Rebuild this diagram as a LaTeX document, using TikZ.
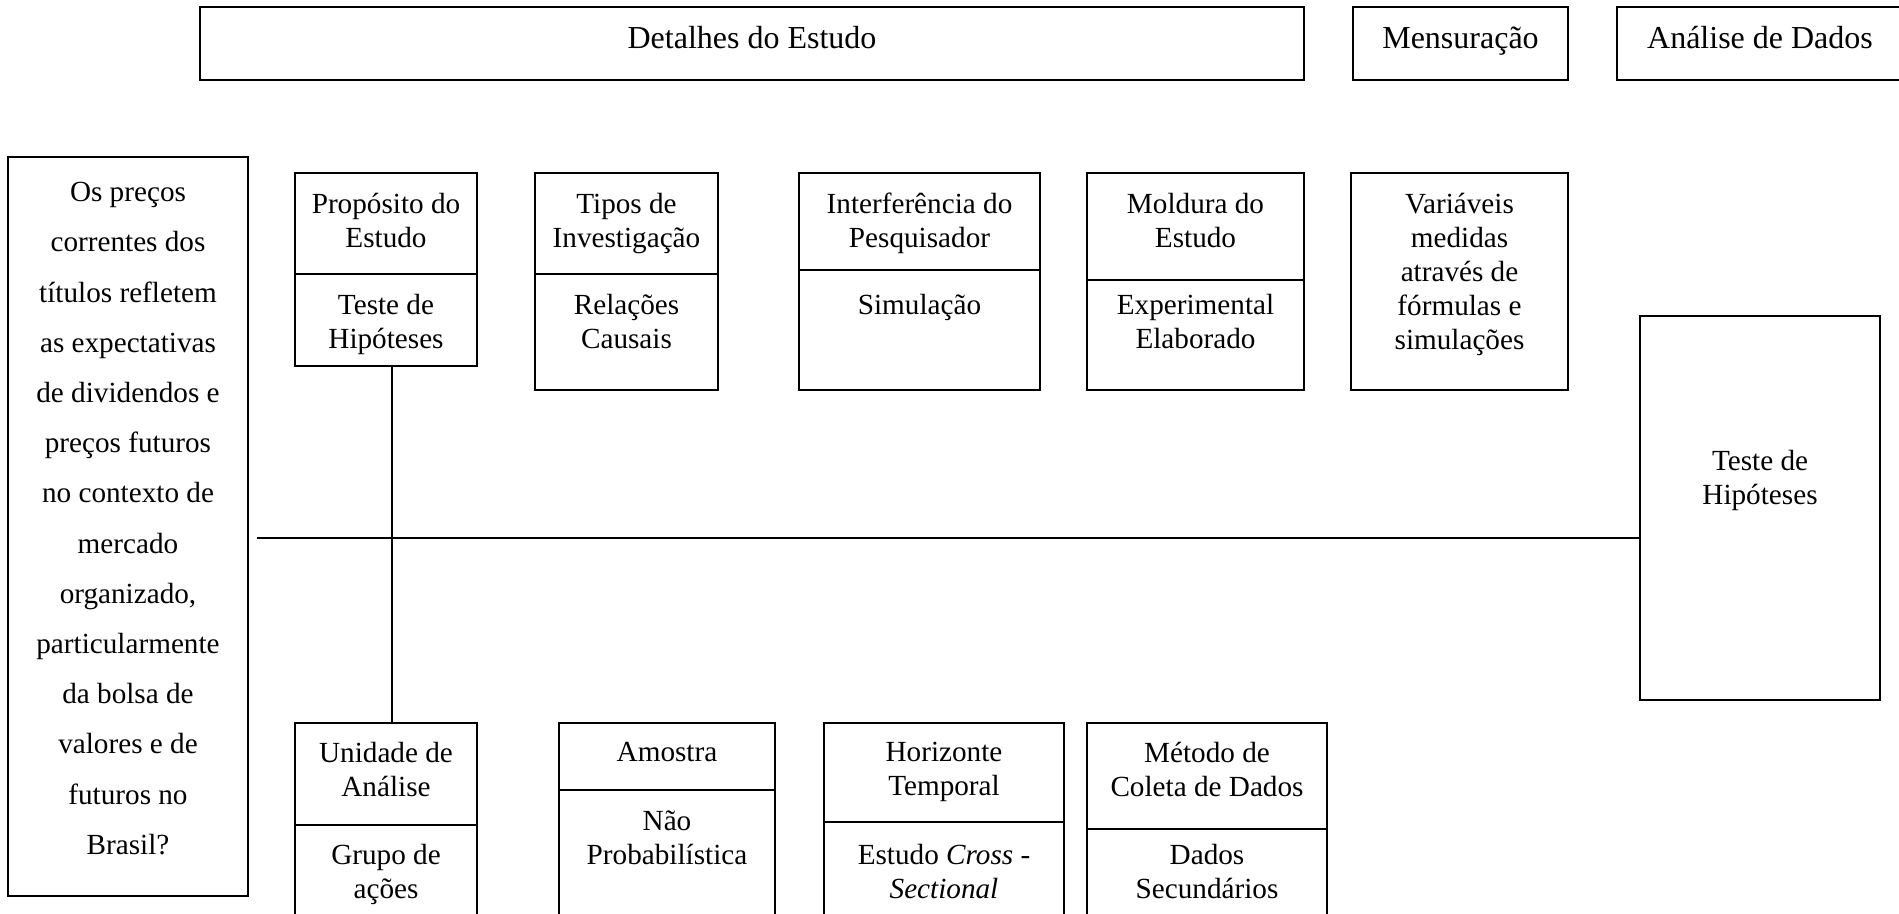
\documentclass[tikz,border=0pt]{standalone}
\usepackage{fontspec}
\setmainfont{Liberation Serif}
\usepackage{tikz}
\usetikzlibrary{calc}

\begin{document}
\begin{tikzpicture}[x=0.5pt,y=-0.5pt,
  caixa/.style={draw=drawColor,line width=0.7pt,inner sep=0pt,outer sep=0pt,anchor=north west},
  rotulo/.style={align=center,inner sep=0pt,anchor=north,font=\fontsize{14.6}{17}\selectfont},
  titulo/.style={inner sep=0pt,anchor=base,font=\fontsize{16}{19}\selectfont},
  linha/.style={draw=drawColor,line width=0.9pt}]
\definecolor{drawColor}{RGB}{0,0,0}
\path[use as bounding box] (0,0) rectangle (1899,914);
\clip (0,0) rectangle (1899,914);

\node[caixa,minimum width=552pt,minimum height=36.5pt] (detalhes) at (200,7) {};
\node[caixa,minimum width=107.5pt,minimum height=36.5pt] (mensuracao) at (1353,7) {};
\node[caixa,minimum width=150pt,minimum height=36.5pt] (analise) at (1617,7) {};
\node[titulo] (detalhesTexto) at (detalhes.north |- 0,49) {Detalhes do Estudo};
\node[titulo] (mensuracaoTexto) at (mensuracao.north |- 0,49) {Mensuração};
\node[titulo] (analiseTexto) at (1760,49) {Análise de Dados};

\node[caixa,minimum width=120pt,minimum height=369.5pt] (pergunta) at (8,157) {};
\node[rotulo,font=\fontsize{14.6}{25.1}\selectfont] (perguntaTexto) at (pergunta.north |- 0,182) {Os preços\\correntes dos\\títulos refletem\\as expectativas\\de dividendos e\\preços futuros\\no contexto de\\mercado\\organizado,\\particularmente\\da bolsa de\\valores e de\\futuros no\\Brasil?};

\node[caixa,minimum width=91pt,minimum height=50.5pt] (propCab) at (295,173) {};
\node[caixa,minimum width=91pt,minimum height=46pt] (propCorpo) at (propCab.south west) {};
\node[rotulo] (propCabTexto) at (propCab.north |- 0,193) {Propósito do\\Estudo};
\node[rotulo] (propCorpoTexto) at (propCorpo.north |- 0,294) {Teste de\\Hipóteses};

\node[caixa,minimum width=91.5pt,minimum height=50.5pt] (tiposCab) at (535,173) {};
\node[caixa,minimum width=91.5pt,minimum height=58pt] (tiposCorpo) at (tiposCab.south west) {};
\node[rotulo] (tiposCabTexto) at (tiposCab.north |- 0,193) {Tipos de\\Investigação};
\node[rotulo] (tiposCorpoTexto) at (tiposCorpo.north |- 0,294) {Relações\\Causais};

\node[caixa,minimum width=120.5pt,minimum height=48.5pt] (interfCab) at (799,173) {};
\node[caixa,minimum width=120.5pt,minimum height=60pt] (interfCorpo) at (interfCab.south west) {};
\node[rotulo] (interfCabTexto) at (interfCab.north |- 0,193) {Interferência do\\Pesquisador};
\node[rotulo] (interfCorpoTexto) at (interfCorpo.north |- 0,294) {Simulação};

\node[caixa,minimum width=108.5pt,minimum height=53.5pt] (molduraCab) at (1087,173) {};
\node[caixa,minimum width=108.5pt,minimum height=55pt] (molduraCorpo) at (molduraCab.south west) {};
\node[rotulo] (molduraCabTexto) at (molduraCab.north |- 0,193) {Moldura do\\Estudo};
\node[rotulo] (molduraCorpoTexto) at (molduraCorpo.north |- 0,294) {Experimental\\Elaborado};

\node[caixa,minimum width=108.5pt,minimum height=108.5pt] (variaveis) at (1351,173) {};
\node[rotulo] (variaveisTexto) at (variaveis.north |- 0,193) {Variáveis\\medidas\\através de\\fórmulas e\\simulações};

\node[caixa,minimum width=120pt,minimum height=192pt] (teste) at (1640,316) {};
\node[rotulo] (testeTexto) at (teste.north |- 0,450) {Teste de\\Hipóteses};

\node[caixa,minimum width=91pt,minimum height=51pt] (unidCab) at (295,723) {};
\node[caixa,minimum width=91pt,minimum height=70pt] (unidCorpo) at (unidCab.south west) {};
\node[rotulo] (unidCabTexto) at (unidCab.north |- 0,742) {Unidade de\\Análise};
\node[rotulo] (unidCorpoTexto) at (unidCorpo.north |- 0,844) {Grupo de\\ações};

\node[caixa,minimum width=108pt,minimum height=33.5pt] (amostraCab) at (559,723) {};
\node[caixa,minimum width=108pt,minimum height=90pt] (amostraCorpo) at (amostraCab.south west) {};
\node[rotulo] (amostraCabTexto) at (amostraCab.north |- 0,742) {Amostra};
\node[rotulo] (amostraCorpoTexto) at (amostraCorpo.north |- 0,810) {Não\\Probabilística};

\node[caixa,minimum width=120pt,minimum height=49.5pt] (horizCab) at (824,723) {};
\node[caixa,minimum width=120pt,minimum height=75pt] (horizCorpo) at (horizCab.south west) {};
\node[rotulo] (horizCabTexto) at (horizCab.north |- 0,742) {Horizonte\\Temporal};
\node[rotulo] (horizCorpoTexto) at (horizCorpo.north |- 0,844) {Estudo \textit{Cross} -\\\textit{Sectional}};

\node[caixa,minimum width=120pt,minimum height=53pt] (metodoCab) at (1087,723) {};
\node[caixa,minimum width=120pt,minimum height=70pt] (metodoCorpo) at (metodoCab.south west) {};
\node[rotulo] (metodoCabTexto) at (metodoCab.north |- 0,742) {Método de\\Coleta de Dados};
\node[rotulo] (metodoCorpoTexto) at (metodoCorpo.north |- 0,844) {Dados\\Secundários};

\coordinate (inicio) at (257,538);
\draw[linha] (inicio) -- (inicio -| teste.west);
\draw[linha] ([xshift=3pt]propCorpo.south) -- ([xshift=3pt]unidCab.north);
\end{tikzpicture}
\end{document}
